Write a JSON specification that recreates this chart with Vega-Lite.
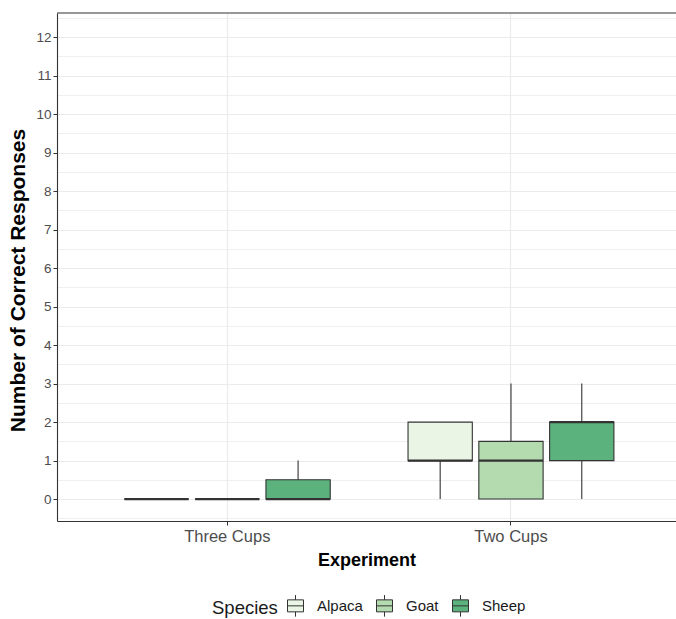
{
  "$schema": "https://vega.github.io/schema/vega-lite/v6.json",
  "width": 619,
  "height": 508,
  "autosize": {"type": "none"},
  "padding": {"left": 57, "top": 13, "right": 0, "bottom": 98},
  "background": "white",
  "config": {"view": {"stroke": null}, "font": "Liberation Sans"},
  "datasets": {
    "boxes": [
      {"Experiment": "Three Cups", "Species": "Alpaca", "lower": 0, "q1": 0, "median": 0, "q3": 0, "upper": 0},
      {"Experiment": "Three Cups", "Species": "Goat", "lower": 0, "q1": 0, "median": 0, "q3": 0, "upper": 0},
      {"Experiment": "Three Cups", "Species": "Sheep", "lower": 0, "q1": 0, "median": 0, "q3": 0.5, "upper": 1},
      {"Experiment": "Two Cups", "Species": "Alpaca", "lower": 0, "q1": 1, "median": 1, "q3": 2, "upper": 2},
      {"Experiment": "Two Cups", "Species": "Goat", "lower": 0, "q1": 0, "median": 1, "q3": 1.5, "upper": 3},
      {"Experiment": "Two Cups", "Species": "Sheep", "lower": 0, "q1": 1, "median": 2, "q3": 2, "upper": 3}
    ],
    "frame": [{"edge": "top", "value": 12.63}]
  },
  "layer": [
    {
      "data": {"name": "boxes"},
      "mark": {"type": "rule", "color": "#333333", "strokeWidth": 1.1},
      "encoding": {
        "x": {"field": "Experiment", "type": "nominal", "sort": ["Three Cups", "Two Cups"],
          "scale": {"type": "band", "paddingInner": 0, "paddingOuter": 0.091, "align": 0.551},
          "axis": {"title": "Experiment", "bandPosition": 0.5, "grid": true, "gridColor": "#ebebeb", "gridWidth": 1.2, "tickSize": 4, "tickColor": "#333333", "domainColor": "#333333", "domainWidth": 1.1, "labelColor": "#4d4d4d", "labelFontSize": 16.5, "labelPadding": 3, "labelAngle": 0, "titleFontSize": 18, "titleFontWeight": "bold", "titleColor": "black", "titlePadding": 7}},
        "xOffset": {"field": "Species", "type": "nominal", "sort": ["Alpaca", "Goat", "Sheep"], "scale": {"paddingInner": 0.092, "paddingOuter": 0.5495}},
        "y": {"field": "lower", "type": "quantitative",
          "scale": {"domain": [-0.57, 12.63], "nice": false, "zero": false},
          "axis": {"title": "Number of Correct Responses", "values": [-0.5, 0, 0.5, 1, 1.5, 2, 2.5, 3, 3.5, 4, 4.5, 5, 5.5, 6, 6.5, 7, 7.5, 8, 8.5, 9, 9.5, 10, 10.5, 11, 11.5, 12, 12.5], "format": ".0f", "labelExpr": "datum.value % 1 === 0 ? datum.label : ''", "labelOverlap": false, "grid": true, "gridColor": "#ebebeb", "gridWidth": {"condition": {"test": "datum.value % 1 !== 0", "value": 0.8}, "value": 1.2}, "tickSize": 4, "tickColor": "#333333", "tickOpacity": {"condition": {"test": "datum.value % 1 !== 0", "value": 0}, "value": 1}, "domainColor": "#333333", "domainWidth": 1.1, "labelColor": "#4d4d4d", "labelFontSize": 13.5, "labelPadding": 2, "titleFontSize": 21, "titleFontWeight": "bold", "titleColor": "black", "titlePadding": 7, "titleY": 267}},
        "y2": {"field": "upper"}
      }
    },
    {
      "data": {"name": "boxes"},
      "mark": {"type": "rect", "stroke": "#333333", "strokeWidth": 1.1},
      "encoding": {
        "x": {"field": "Experiment", "type": "nominal", "sort": ["Three Cups", "Two Cups"],
          "scale": {"type": "band", "paddingInner": 0, "paddingOuter": 0.091, "align": 0.551},
          "axis": {"title": "Experiment", "bandPosition": 0.5, "grid": true, "gridColor": "#ebebeb", "gridWidth": 1.2, "tickSize": 4, "tickColor": "#333333", "domainColor": "#333333", "domainWidth": 1.1, "labelColor": "#4d4d4d", "labelFontSize": 16.5, "labelPadding": 3, "labelAngle": 0, "titleFontSize": 18, "titleFontWeight": "bold", "titleColor": "black", "titlePadding": 7}},
        "xOffset": {"field": "Species", "type": "nominal", "sort": ["Alpaca", "Goat", "Sheep"], "scale": {"paddingInner": 0.092, "paddingOuter": 0.5495}},
        "y": {"field": "q1", "type": "quantitative",
          "scale": {"domain": [-0.57, 12.63], "nice": false, "zero": false},
          "axis": {"title": "Number of Correct Responses", "values": [-0.5, 0, 0.5, 1, 1.5, 2, 2.5, 3, 3.5, 4, 4.5, 5, 5.5, 6, 6.5, 7, 7.5, 8, 8.5, 9, 9.5, 10, 10.5, 11, 11.5, 12, 12.5], "format": ".0f", "labelExpr": "datum.value % 1 === 0 ? datum.label : ''", "labelOverlap": false, "grid": true, "gridColor": "#ebebeb", "gridWidth": {"condition": {"test": "datum.value % 1 !== 0", "value": 0.8}, "value": 1.2}, "tickSize": 4, "tickColor": "#333333", "tickOpacity": {"condition": {"test": "datum.value % 1 !== 0", "value": 0}, "value": 1}, "domainColor": "#333333", "domainWidth": 1.1, "labelColor": "#4d4d4d", "labelFontSize": 13.5, "labelPadding": 2, "titleFontSize": 21, "titleFontWeight": "bold", "titleColor": "black", "titlePadding": 7, "titleY": 267}},
        "y2": {"field": "q3"},
        "fill": {"field": "Species", "type": "nominal",
          "scale": {"domain": ["Alpaca", "Goat", "Sheep"], "range": ["#eaf5e5", "#b4dbaf", "#5bb27c"]},
          "legend": {"orient": "none", "legendX": 155, "legendY": 584, "direction": "horizontal", "titleOrient": "left", "title": "Species", "titleFontSize": 18.5, "titleFontWeight": "normal", "titleColor": "#1a1a1a", "titlePadding": 9, "labelFontSize": 15, "labelColor": "#1a1a1a", "labelOffset": 13, "columnPadding": 11, "symbolSize": 256, "symbolType": "M-1,-0.75H1V0.75H-1Z M-1,0H1 M0,-0.75V-1.35 M0,0.75V1.35", "symbolStrokeColor": "#333333", "symbolStrokeWidth": 1}}
      }
    },
    {
      "data": {"name": "boxes"},
      "mark": {"type": "rect", "fill": null, "stroke": "#333333", "strokeWidth": 2.2},
      "encoding": {
        "x": {"field": "Experiment", "type": "nominal", "sort": ["Three Cups", "Two Cups"],
          "scale": {"type": "band", "paddingInner": 0, "paddingOuter": 0.091, "align": 0.551},
          "axis": {"title": "Experiment", "bandPosition": 0.5, "grid": true, "gridColor": "#ebebeb", "gridWidth": 1.2, "tickSize": 4, "tickColor": "#333333", "domainColor": "#333333", "domainWidth": 1.1, "labelColor": "#4d4d4d", "labelFontSize": 16.5, "labelPadding": 3, "labelAngle": 0, "titleFontSize": 18, "titleFontWeight": "bold", "titleColor": "black", "titlePadding": 7}},
        "xOffset": {"field": "Species", "type": "nominal", "sort": ["Alpaca", "Goat", "Sheep"], "scale": {"paddingInner": 0.092, "paddingOuter": 0.5495}},
        "y": {"field": "median", "type": "quantitative",
          "scale": {"domain": [-0.57, 12.63], "nice": false, "zero": false},
          "axis": {"title": "Number of Correct Responses", "values": [-0.5, 0, 0.5, 1, 1.5, 2, 2.5, 3, 3.5, 4, 4.5, 5, 5.5, 6, 6.5, 7, 7.5, 8, 8.5, 9, 9.5, 10, 10.5, 11, 11.5, 12, 12.5], "format": ".0f", "labelExpr": "datum.value % 1 === 0 ? datum.label : ''", "labelOverlap": false, "grid": true, "gridColor": "#ebebeb", "gridWidth": {"condition": {"test": "datum.value % 1 !== 0", "value": 0.8}, "value": 1.2}, "tickSize": 4, "tickColor": "#333333", "tickOpacity": {"condition": {"test": "datum.value % 1 !== 0", "value": 0}, "value": 1}, "domainColor": "#333333", "domainWidth": 1.1, "labelColor": "#4d4d4d", "labelFontSize": 13.5, "labelPadding": 2, "titleFontSize": 21, "titleFontWeight": "bold", "titleColor": "black", "titlePadding": 7, "titleY": 267}},
        "y2": {"field": "median"}
      }
    },
    {
      "data": {"name": "frame"},
      "mark": {"type": "rule", "color": "#333333", "strokeWidth": 1.1},
      "encoding": {
        "y": {"field": "value", "type": "quantitative",
          "scale": {"domain": [-0.57, 12.63], "nice": false, "zero": false},
          "axis": {"title": "Number of Correct Responses", "values": [-0.5, 0, 0.5, 1, 1.5, 2, 2.5, 3, 3.5, 4, 4.5, 5, 5.5, 6, 6.5, 7, 7.5, 8, 8.5, 9, 9.5, 10, 10.5, 11, 11.5, 12, 12.5], "format": ".0f", "labelExpr": "datum.value % 1 === 0 ? datum.label : ''", "labelOverlap": false, "grid": true, "gridColor": "#ebebeb", "gridWidth": {"condition": {"test": "datum.value % 1 !== 0", "value": 0.8}, "value": 1.2}, "tickSize": 4, "tickColor": "#333333", "tickOpacity": {"condition": {"test": "datum.value % 1 !== 0", "value": 0}, "value": 1}, "domainColor": "#333333", "domainWidth": 1.1, "labelColor": "#4d4d4d", "labelFontSize": 13.5, "labelPadding": 2, "titleFontSize": 21, "titleFontWeight": "bold", "titleColor": "black", "titlePadding": 7, "titleY": 267}}
      }
    }
  ]
}
